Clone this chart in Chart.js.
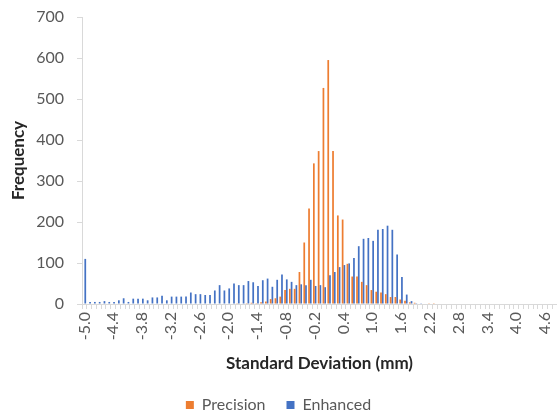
<!DOCTYPE html>
<html>
<head>
<meta charset="utf-8">
<script src="https://cdn.jsdelivr.net/npm/chart.js@4/dist/chart.umd.min.js"></script>
<style>
  html, body { margin: 0; padding: 0; background: #ffffff; }
  #wrap { width: 557px; height: 419px; position: relative; }
</style>
</head>
<body>
<div id="wrap"><canvas id="chart" width="557" height="419"></canvas></div>
<script>
// Histogram bins: -5.0 mm to 4.8 mm in 0.1 mm steps
const binStart = -5.0;
const binCount = 99;
const categories = [];
for (let i = 0; i < binCount; i++) {
  categories.push((binStart + i * 0.1).toFixed(1));
}

// Bin labels printed under the axis
const tickLabels = ['-5.0', '-4.4', '-3.8', '-3.2', '-2.6', '-2.0', '-1.4', '-0.8', '-0.2',
  '0.4', '1.0', '1.6', '2.2', '2.8', '3.4', '4.0', '4.6'];

// Frequency per bin
const precision = [
  0, 0, 0, 0, 0, 0, 0, 0, 0, 0,
  0, 0, 0, 0, 0, 0, 0, 0, 0, 0,
  0, 0, 0, 0, 0, 0, 0, 0, 0, 0,
  0, 0, 2, 0, 2, 3, 2, 4, 6, 12,
  14, 18, 34, 37, 37, 78, 150, 233, 343, 373,
  527, 595, 373, 216, 206, 98, 67, 67, 54, 46,
  34, 30, 28, 24, 17, 17, 11, 8, 4, 3,
  0, 0, 2, 2, 0, 0, 0, 0, 0, 0,
  0, 0, 0, 0, 0, 0, 0, 0, 0, 0,
  0, 0, 0, 0, 0, 0, 0, 0, 0
];

const enhanced = [
  110, 5, 5, 5, 7, 5, 5, 9, 14, 5,
  13, 13, 13, 9, 16, 16, 20, 9, 18, 18,
  18, 18, 28, 24, 24, 22, 22, 33, 46, 33,
  38, 50, 46, 46, 56, 53, 44, 58, 62, 42,
  59, 72, 60, 54, 46, 48, 46, 59, 44, 46,
  41, 70, 78, 90, 95, 99, 112, 141, 159, 161,
  154, 181, 183, 191, 181, 121, 66, 23, 7, 2,
  2, 0, 0, 0, 0, 0, 0, 0, 0, 0,
  0, 0, 0, 0, 0, 0, 0, 0, 0, 0,
  0, 0, 0, 0, 0, 0, 0, 0, 0
];

const yTicks = { min: 0, max: 700, step: 100 };

const FONT = "Lato, 'Open Sans', 'DejaVu Sans', sans-serif";
const textGrey = '#595959';
const axisGrey = '#d9d9d9';

new Chart(document.getElementById('chart'), {
  type: 'bar',
  data: {
    labels: categories,
    datasets: [
      { label: 'Precision', data: precision, backgroundColor: '#ED7D31', borderWidth: 0,
        categoryPercentage: 0.72, barPercentage: 1.0 },
      { label: 'Enhanced', data: enhanced, backgroundColor: '#4472C4', borderWidth: 0,
        categoryPercentage: 0.72, barPercentage: 1.0 }
    ]
  },
  options: {
    responsive: false,
    animation: false,
    devicePixelRatio: 1,
    layout: { padding: { top: 17, right: 0, bottom: -4, left: 0 } },
    plugins: {
      tooltip: { enabled: false },
      legend: {
        position: 'bottom',
        align: 'center',
        labels: {
          font: { family: FONT, size: 16 },
          color: textGrey,
          boxWidth: 8,
          boxHeight: 8,
          padding: 21
        }
      }
    },
    scales: {
      x: {
        grid: {
          display: true,
          drawOnChartArea: false,
          drawTicks: true,
          tickLength: 5,
          color: axisGrey,
          offset: true
        },
        border: { display: true, color: axisGrey, width: 1 },
        ticks: {
          autoSkip: false,
          maxRotation: 90,
          minRotation: 90,
          padding: 3,
          font: { family: FONT, size: 16 },
          color: textGrey,
          callback: function (value) {
            const lab = this.getLabelForValue(value);
            return tickLabels.includes(lab) ? lab : '';
          }
        },
        title: {
          display: true,
          text: 'Standard Deviation (mm)',
          font: { family: FONT, size: 17, weight: 'bold' },
          color: '#262626',
          padding: { top: 0, bottom: 2 }
        },
        afterFit: function (scale) {
          scale.height = 72;
          scale.paddingLeft = 0;
          scale.paddingRight = 0;
        }
      },
      y: {
        min: yTicks.min,
        max: yTicks.max,
        grid: {
          display: true,
          drawOnChartArea: false,
          drawTicks: true,
          tickLength: 5,
          color: axisGrey
        },
        border: { display: true, color: axisGrey, width: 1 },
        ticks: {
          stepSize: yTicks.step,
          padding: 13,
          font: { family: FONT, size: 16 },
          color: textGrey
        },
        title: {
          display: true,
          text: 'Frequency',
          font: { family: FONT, size: 17, weight: 'bold' },
          color: '#262626',
          padding: { top: 8, bottom: 0 }
        },
        afterFit: function (scale) {
          scale.width = 82;
          scale.paddingTop = 0;
          scale.paddingBottom = 0;
        }
      }
    }
  }
});
</script>
</body>
</html>
